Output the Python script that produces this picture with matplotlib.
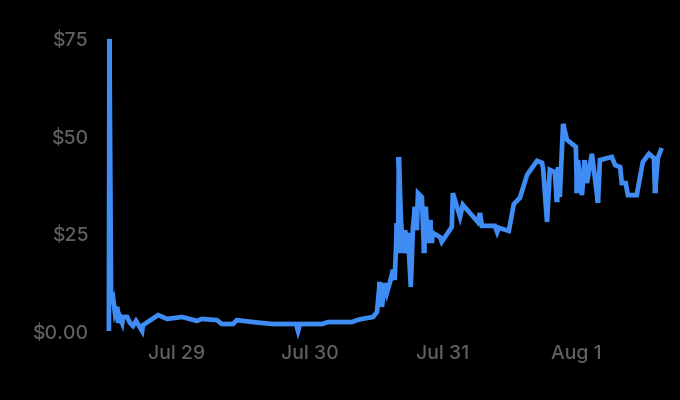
import matplotlib
matplotlib.use("Agg")
import matplotlib.pyplot as plt
import pandas as pd

# hours since Jul 28 00:00
hours = [11.7, 11.8, 12.1, 12.45, 12.8, 13.2, 13.35, 13.7, 14.1, 14.25, 15.0, 15.5, 16.05, 16.6,
         17.7, 17.85, 20.6, 22.2, 24.9, 27.6, 28.5, 31.2, 32.1, 34.1, 34.8, 35.9, 39.0, 41.3,
         45.5, 45.85, 46.2, 50.2, 51.3, 55.6, 56.5, 57.4, 59.4, 60.1, 60.6, 61.0, 61.5, 61.9,
         62.4, 63.0, 63.3, 63.7, 63.9, 64.05, 64.4, 64.8, 65.15, 65.5, 65.7, 66.2, 66.6, 66.95,
         67.3, 67.5, 68.2, 68.6, 68.9, 69.3, 69.7, 70.0, 70.2, 71.5, 71.8, 73.6, 73.8, 75.1,
         75.6, 78.3, 78.7, 79.05, 81.4, 81.8, 82.1, 83.9, 84.8, 85.9, 87.2, 89.0, 89.9, 90.1,
         90.8, 91.3, 92.2, 92.6, 92.8, 93.1, 93.7, 94.4, 96.0, 96.2, 96.4, 97.1, 97.6, 98.0,
         98.9, 99.45, 100.0, 100.35, 102.5, 103.1, 104.0, 104.3, 105.0, 105.4, 107.0, 107.6,
         108.1, 109.2, 110.1, 110.3, 110.8, 111.5]
prices = [0.0, 75.0, 8.0, 8.7, 4.6, 6.2, 2.1, 3.6, 2.1, 3.6, 3.6, 2.1, 1.3, 2.6,
          0.0, 1.5, 4.1, 3.1, 3.6, 2.6, 3.1, 2.8, 1.8, 1.8, 2.8, 2.6, 2.1, 1.8,
          1.8, 0.0, 1.8, 1.8, 2.3, 2.3, 2.8, 3.1, 3.6, 4.9, 12.6, 6.2, 12.3, 9.8,
          12.3, 15.7, 13.1, 27.7, 20.0, 44.7, 29.3, 20.0, 25.9, 20.0, 25.2, 11.3, 26.7, 31.9,
          25.9, 35.4, 34.4, 20.0, 31.9, 22.6, 28.5, 22.6, 25.2, 24.1, 22.9, 26.7, 35.4, 29.3,
          32.4, 28.0, 30.3, 27.0, 27.0, 25.4, 26.5, 25.7, 32.6, 34.2, 40.1, 43.7, 43.2, 41.6,
          28.0, 41.4, 40.8, 33.1, 42.1, 34.4, 53.2, 49.1, 47.3, 35.4, 43.9, 34.9, 43.9, 38.0,
          45.5, 39.3, 32.9, 43.9, 44.7, 42.6, 42.1, 38.0, 38.0, 34.9, 34.9, 39.6,
          43.4, 45.5, 44.4, 35.4, 44.4, 47.0]

ytick_values = [0, 25, 50, 75]
ytick_labels = ["$0.00", "$25", "$50", "$75"]
xtick_days = ["2021-07-29", "2021-07-30", "2021-07-31", "2021-08-01"]
xtick_labels = ["Jul 29", "Jul 30", "Jul 31", "Aug 1"]

base = pd.Timestamp("2021-07-28")
times = base + pd.to_timedelta(hours, unit="h")

fig = plt.figure(figsize=(6.8, 4.0), dpi=100, facecolor="black")
ax = fig.add_axes([105 / 680, 60 / 400, 565 / 680, 310 / 400])
ax.set_facecolor("black")

ax.plot(times, prices, color="#3f8cf5", lw=3.4, solid_joinstyle="miter", solid_capstyle="butt")

ax.set_xlim(base + pd.Timedelta(hours=11.0), base + pd.Timedelta(hours=113.0))
ax.set_ylim(-2.31, 77.3)

ax.set_yticks(ytick_values)
ax.set_yticklabels(ytick_labels)
ax.set_xticks([pd.Timestamp(d) for d in xtick_days])
ax.set_xticklabels(xtick_labels)

for lab in ax.get_xticklabels() + ax.get_yticklabels():
    lab.set_fontfamily(["Inter", "DejaVu Sans"])
    lab.set_fontsize(14)
    lab.set_fontweight("medium")
    lab.set_color("#606064")

ax.tick_params(axis="both", length=0)
ax.tick_params(axis="y", pad=11.5)
ax.tick_params(axis="x", pad=3.5)
for s in ax.spines.values():
    s.set_visible(False)

fig.savefig("out.png", dpi=100, facecolor="black")
